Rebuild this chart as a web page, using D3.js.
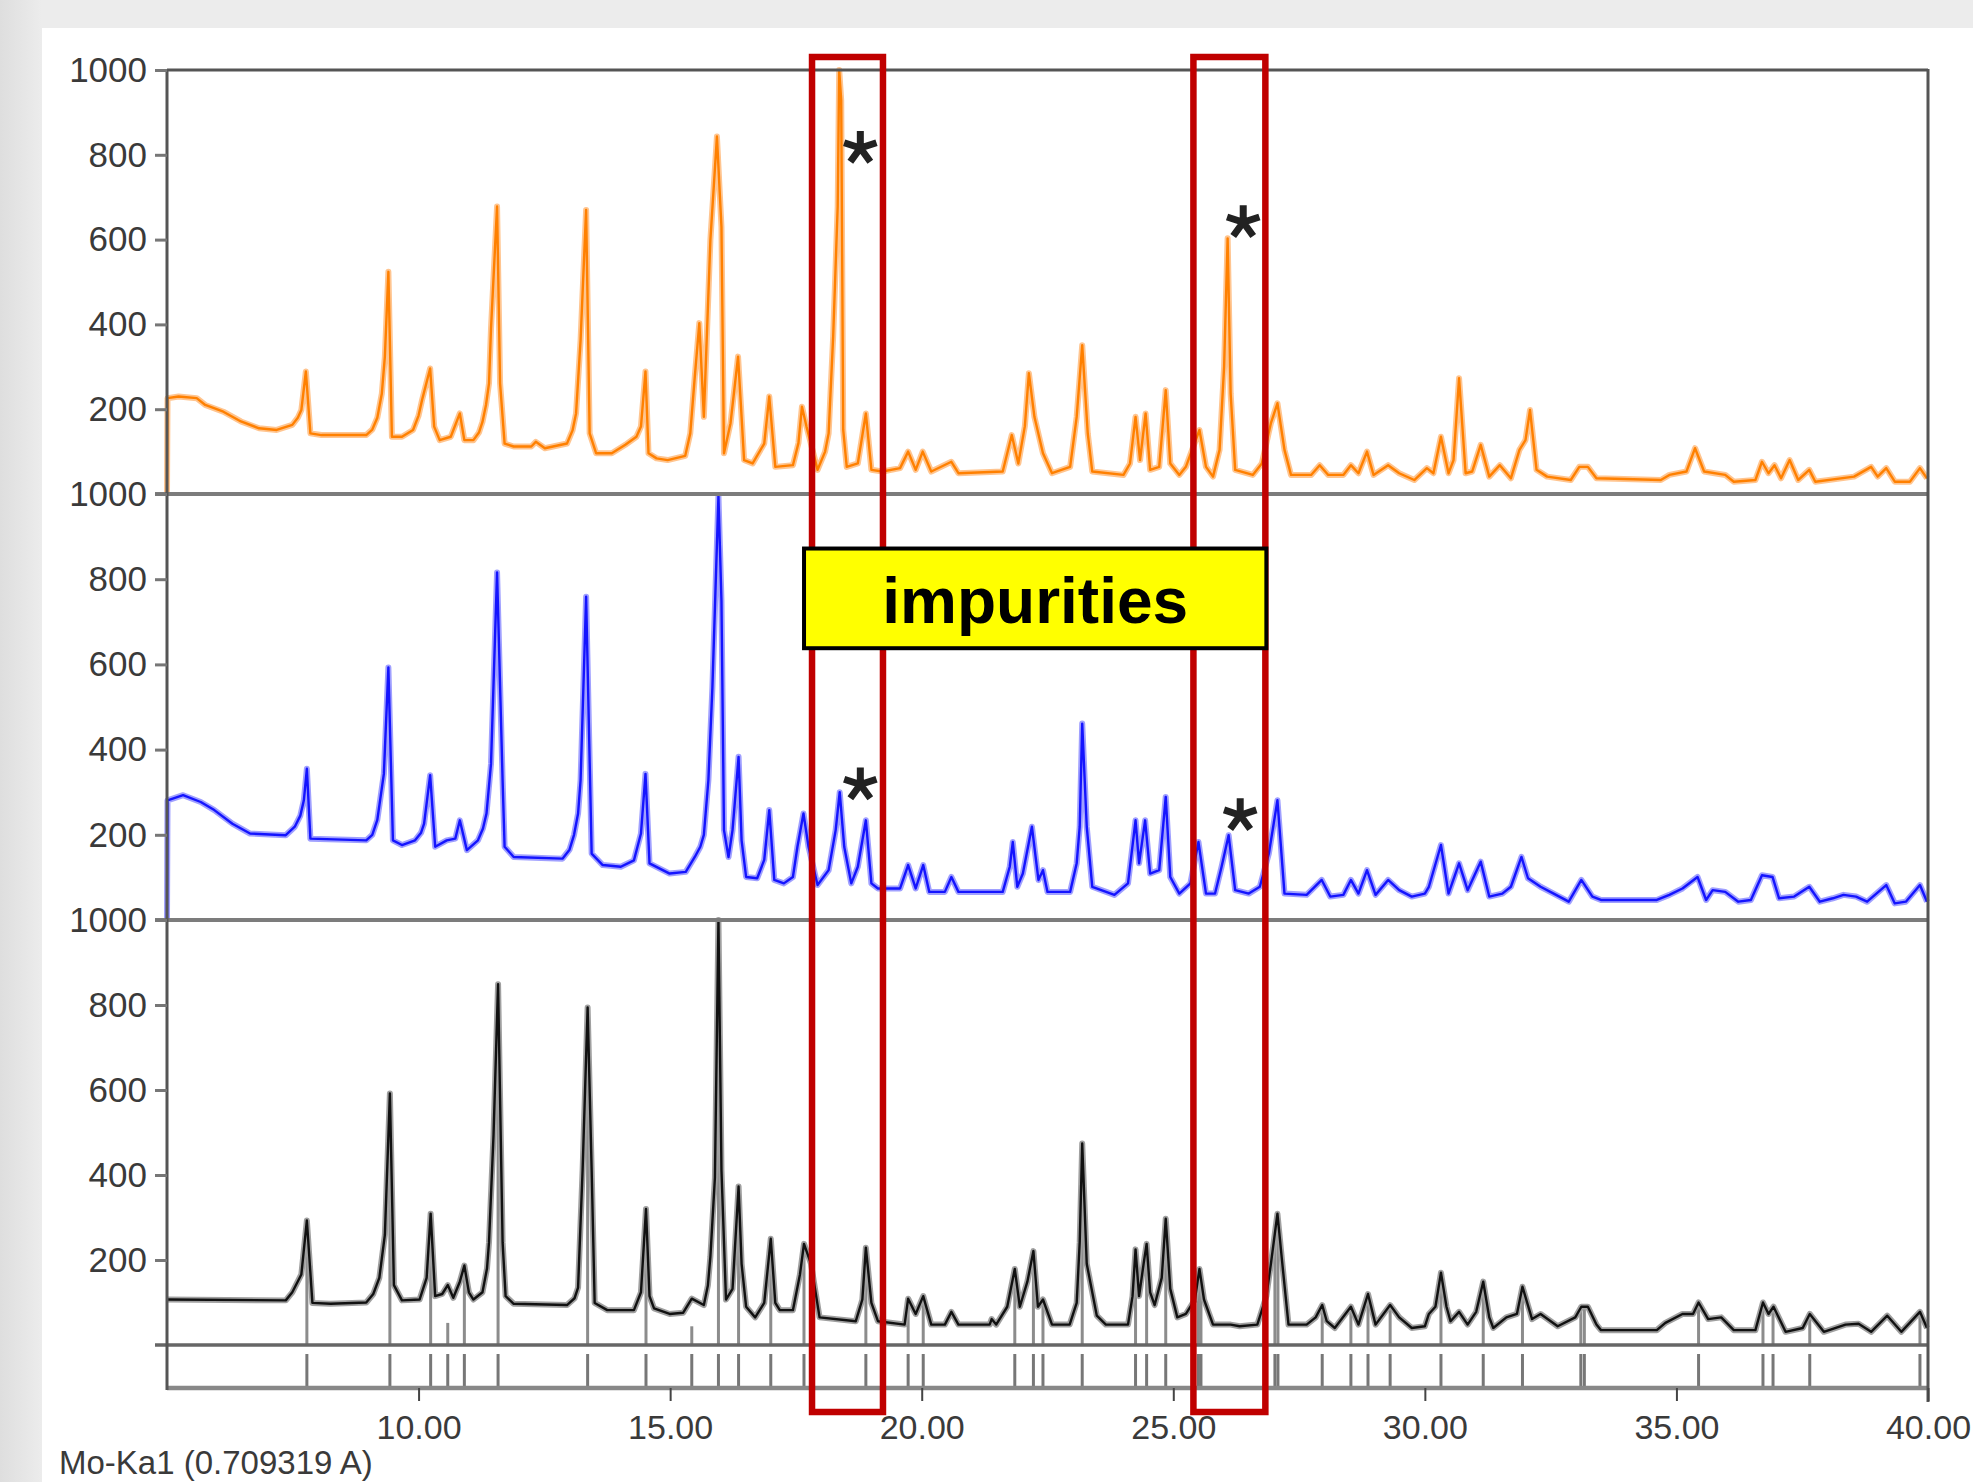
<!DOCTYPE html>
<html>
<head>
<meta charset="utf-8">
<script src="https://cdn.jsdelivr.net/npm/d3@7"></script>
<style>
    html, body { margin: 0; padding: 0; background: #ececec; }
    svg { display: block; }
</style>
</head>
<body>
<svg id="chart" width="1973" height="1482"></svg>
<script>
// axis ranges and ticks
const TWO_THETA_RANGE = [5, 40]
const INTENSITY_RANGE = [0, 1000]
const X_TICKS = [10, 15, 20, 25, 30, 35, 40]
const Y_TICKS = [200, 400, 600, 800, 1000]
const X_LABEL = "Mo-Ka1 (0.709319 A)"

// measured pattern, top panel (orange): [2theta, intensity]
const ORANGE_TRACE = [[5.00,0],[5.01,226],[5.23,230],[5.59,226],[5.76,210],[6.12,194],[6.47,171],[6.83,155],[7.18,151],[7.49,163],[7.60,180],[7.67,198],[7.76,289],[7.85,143],[8.07,139],[8.96,139],[9.08,152],[9.18,180],[9.27,237],[9.33,324],[9.40,524],[9.47,135],[9.67,135],[9.89,151],[10.00,185],[10.07,222],[10.23,296],[10.31,159],[10.42,127],[10.64,135],[10.82,190],[10.91,127],[11.09,127],[11.20,145],[11.27,170],[11.34,210],[11.40,261],[11.44,391],[11.56,678],[11.62,261],[11.71,119],[11.89,112],[12.24,112],[12.33,123],[12.51,108],[12.95,119],[13.06,150],[13.13,190],[13.22,363],[13.33,670],[13.40,143],[13.53,96],[13.84,96],[14.11,116],[14.33,135],[14.42,159],[14.51,289],[14.57,96],[14.73,84],[14.95,80],[15.30,90],[15.40,143],[15.49,277],[15.58,403],[15.67,182],[15.80,599],[15.93,843],[16.02,630],[16.07,96],[16.20,167],[16.35,324],[16.47,80],[16.64,72],[16.87,119],[16.97,230],[17.09,64],[17.44,68],[17.55,120],[17.62,206],[17.71,159],[17.93,57],[18.08,100],[18.15,143],[18.24,371],[18.33,678],[18.36,1000],[18.40,929],[18.44,151],[18.51,64],[18.73,72],[18.89,190],[19.00,57],[19.22,53],[19.57,61],[19.73,100],[19.88,57],[20.02,100],[20.19,53],[20.59,76],[20.73,49],[21.61,53],[21.79,139],[21.92,72],[22.05,160],[22.13,285],[22.24,182],[22.41,96],[22.59,49],[22.95,64],[23.08,182],[23.19,351],[23.30,143],[23.39,53],[24.01,45],[24.14,72],[24.25,182],[24.34,80],[24.45,190],[24.54,57],[24.72,64],[24.85,245],[24.94,72],[25.12,45],[25.25,64],[25.52,151],[25.65,64],[25.79,41],[25.92,104],[26.01,300],[26.08,603],[26.14,237],[26.23,57],[26.58,45],[26.76,72],[26.94,167],[27.07,214],[27.21,104],[27.34,45],[27.74,45],[27.91,68],[28.08,45],[28.38,45],[28.53,68],[28.68,49],[28.85,100],[28.98,45],[29.27,68],[29.49,49],[29.79,33],[30.04,61],[30.17,49],[30.32,135],[30.47,49],[30.57,80],[30.68,273],[30.81,49],[30.94,53],[31.11,116],[31.28,41],[31.49,68],[31.71,37],[31.88,104],[32.00,127],[32.09,198],[32.22,57],[32.43,41],[32.90,33],[33.07,64],[33.24,64],[33.41,37],[34.69,33],[34.86,45],[35.20,53],[35.37,108],[35.55,53],[35.97,45],[36.14,29],[36.57,33],[36.70,76],[36.83,49],[36.95,68],[37.08,37],[37.25,80],[37.42,33],[37.64,57],[37.76,29],[38.53,41],[38.87,64],[39.00,41],[39.17,61],[39.34,29],[39.64,29],[39.84,61],[39.98,37]]

// measured pattern, middle panel (blue)
const BLUE_TRACE = [[5.00,0],[5.01,281],[5.32,293],[5.67,277],[5.94,258],[6.30,226],[6.65,203],[7.36,199],[7.54,219],[7.65,245],[7.72,281],[7.78,355],[7.85,191],[8.96,187],[9.08,200],[9.18,235],[9.31,343],[9.40,593],[9.49,187],[9.67,176],[9.93,187],[10.05,205],[10.11,226],[10.23,340],[10.33,172],[10.56,187],[10.73,191],[10.82,234],[10.96,164],[11.18,187],[11.28,215],[11.35,250],[11.44,367],[11.56,816],[11.67,328],[11.71,172],[11.89,148],[12.86,144],[13.00,165],[13.09,200],[13.17,250],[13.22,328],[13.33,759],[13.44,156],[13.66,129],[14.02,125],[14.28,140],[14.42,203],[14.51,343],[14.59,133],[14.99,109],[15.31,113],[15.49,148],[15.60,172],[15.67,200],[15.76,328],[15.84,546],[15.96,995],[16.02,749],[16.07,211],[16.16,148],[16.24,211],[16.36,383],[16.42,187],[16.51,101],[16.73,98],[16.87,141],[16.97,258],[17.07,94],[17.26,86],[17.44,101],[17.53,172],[17.65,250],[17.75,172],[17.93,82],[18.15,117],[18.29,211],[18.37,300],[18.46,172],[18.60,86],[18.73,125],[18.89,234],[19.00,86],[19.13,74],[19.57,74],[19.73,129],[19.88,74],[20.03,129],[20.15,66],[20.46,66],[20.59,101],[20.73,66],[21.61,66],[21.75,125],[21.81,183],[21.90,78],[22.01,109],[22.19,219],[22.32,94],[22.41,117],[22.50,66],[22.95,66],[23.08,133],[23.14,219],[23.19,461],[23.28,219],[23.39,78],[23.83,59],[24.10,86],[24.25,234],[24.32,133],[24.44,234],[24.54,109],[24.72,117],[24.85,289],[24.94,101],[25.12,62],[25.34,86],[25.50,183],[25.65,62],[25.83,62],[25.96,125],[26.10,199],[26.23,70],[26.50,62],[26.72,78],[26.90,156],[27.07,281],[27.21,62],[27.65,59],[27.95,94],[28.12,55],[28.38,59],[28.53,94],[28.68,62],[28.85,117],[29.02,59],[29.27,94],[29.49,70],[29.74,55],[30.00,62],[30.08,78],[30.32,176],[30.47,62],[30.68,133],[30.85,70],[31.11,137],[31.28,55],[31.54,62],[31.71,78],[31.92,148],[32.05,98],[32.30,78],[32.56,62],[32.86,43],[33.11,94],[33.33,55],[33.50,47],[34.61,47],[34.86,59],[35.12,74],[35.42,101],[35.59,47],[35.72,70],[35.97,66],[36.23,43],[36.48,47],[36.70,105],[36.91,101],[37.04,51],[37.34,55],[37.64,78],[37.85,43],[38.11,51],[38.32,59],[38.57,55],[38.79,43],[39.17,82],[39.34,39],[39.56,43],[39.84,82],[39.98,43]]

// reference pattern, bottom panel (black)
const BLACK_TRACE = [[5.00,107],[7.36,105],[7.49,124],[7.67,166],[7.78,293],[7.89,99],[8.25,97],[8.96,100],[9.10,120],[9.22,158],[9.33,259],[9.43,592],[9.51,141],[9.67,105],[10.02,107],[10.16,158],[10.24,309],[10.33,115],[10.47,120],[10.58,141],[10.69,111],[10.82,149],[10.91,187],[11.00,124],[11.09,107],[11.27,124],[11.36,180],[11.40,242],[11.49,495],[11.58,849],[11.67,242],[11.73,115],[11.89,97],[12.95,94],[13.10,110],[13.17,135],[13.26,411],[13.36,794],[13.44,411],[13.50,99],[13.75,82],[14.28,82],[14.42,124],[14.52,320],[14.59,115],[14.68,86],[14.99,73],[15.26,76],[15.43,109],[15.67,94],[15.75,140],[15.80,208],[15.89,394],[15.96,1000],[16.02,411],[16.11,107],[16.24,132],[16.36,373],[16.42,191],[16.51,90],[16.69,65],[16.87,99],[17.00,250],[17.09,99],[17.18,82],[17.44,82],[17.58,166],[17.66,238],[17.80,191],[17.97,65],[18.69,56],[18.82,107],[18.89,229],[19.00,99],[19.13,56],[19.66,48],[19.73,109],[19.88,73],[20.03,115],[20.19,48],[20.46,48],[20.59,78],[20.73,48],[21.35,48],[21.39,61],[21.48,48],[21.70,90],[21.85,179],[21.95,90],[22.10,149],[22.22,221],[22.31,90],[22.41,107],[22.59,48],[22.94,48],[23.08,99],[23.14,242],[23.19,474],[23.28,191],[23.48,69],[23.66,48],[24.10,48],[24.19,115],[24.25,225],[24.32,115],[24.41,191],[24.47,238],[24.54,124],[24.63,94],[24.77,158],[24.85,297],[24.94,132],[25.08,65],[25.25,73],[25.43,107],[25.52,179],[25.61,107],[25.79,48],[26.14,48],[26.32,44],[26.67,48],[26.85,115],[26.94,191],[27.07,309],[27.16,200],[27.29,48],[27.65,48],[27.83,65],[27.96,94],[28.05,56],[28.21,40],[28.53,90],[28.68,48],[28.87,120],[29.02,48],[29.31,94],[29.49,65],[29.74,40],[30.00,44],[30.08,73],[30.21,90],[30.32,170],[30.43,90],[30.51,56],[30.68,78],[30.85,48],[31.02,78],[31.16,149],[31.28,65],[31.36,40],[31.62,65],[31.83,73],[31.94,137],[32.13,61],[32.30,73],[32.64,44],[32.99,65],[33.11,90],[33.24,90],[33.41,48],[33.50,35],[34.61,35],[34.78,52],[35.12,73],[35.33,73],[35.44,100],[35.63,61],[35.89,65],[36.14,35],[36.57,35],[36.72,100],[36.83,73],[36.93,90],[37.17,31],[37.51,40],[37.65,73],[37.93,31],[38.36,48],[38.62,50],[38.87,31],[39.19,69],[39.47,31],[39.84,78],[39.98,40]]

// calculated reflections (tick strip) and their stick heights
const REFLECTION_POSITIONS = [7.78, 9.43, 10.24, 10.58, 10.91, 11.58, 13.36, 14.52, 15.43, 15.96, 16.36, 17.00, 17.66, 18.89, 19.73, 20.03, 21.85, 22.22, 22.41, 23.19, 24.25, 24.47, 24.85, 25.50, 25.55, 27.02, 27.08, 27.96, 28.53, 28.87, 29.31, 30.32, 31.16, 31.94, 33.10, 33.17, 35.44, 36.72, 36.92, 37.65, 39.84]
const STICK_HEIGHTS = [293, 590, 309, 52, 158, 849, 794, 318, 44, 1000, 377, 250, 242, 229, 107, 115, 179, 221, 107, 474, 225, 238, 297, 179, 150, 250, 309, 94, 90, 120, 94, 170, 149, 137, 90, 90, 100, 100, 90, 73, 78]

// annotations
const IMPURITY_WINDOWS = [[17.82, 19.23], [25.40, 26.83]]
const IMPURITY_LABEL = "impurities"
const STAR_PANELS = [0, 0, 1, 1]
const STAR_TWO_THETA = [18.78, 26.39, 18.78, 26.33]
const STAR_INTENSITY = [816, 641, 318, 246]

const FONT = "'Liberation Sans', Arial, sans-serif"

let svg = d3.select("#chart"),
    bounds = [70, 494, 920, 1345],
    left = 167,
    right = 1928,
    stripBottom = 1388,
    x = d3.scaleLinear().domain(TWO_THETA_RANGE).range([left, right]),
    yScales = [0, 1, 2].map(i => d3.scaleLinear().domain(INTENSITY_RANGE).range([bounds[i + 1], bounds[i]])),
    traces = [ORANGE_TRACE, BLUE_TRACE, BLACK_TRACE],
    haloColors = ["#ffc590", "#a0a0ff", "#a0a0a0"],
    coreColors = ["#ff8000", "#1414ff", "#111111"]

// page background
let defs = svg.append("defs"),
    shade = defs.append("linearGradient").attr("id", "leftShade")
shade.append("stop").attr("offset", "0%").attr("stop-color", "#dedede")
shade.append("stop").attr("offset", "100%").attr("stop-color", "#ececec")

svg.append("rect")
    .attr("width", 1973)
    .attr("height", 1482)
    .attr("fill", "#ececec")
svg.append("rect")
    .attr("width", 42)
    .attr("height", 1482)
    .attr("fill", "url(#leftShade)")
svg.append("rect")
    .attr("x", 42)
    .attr("y", 28)
    .attr("width", 1973 - 42)
    .attr("height", 1482 - 28)
    .attr("fill", "#ffffff")

// reflection sticks in the bottom panel
svg.append("g")
    .selectAll("line")
    .data(REFLECTION_POSITIONS)
    .join("line")
    .attr("x1", d => x(d))
    .attr("x2", d => x(d))
    .attr("y1", yScales[2](0))
    .attr("y2", (d, i) => yScales[2](STICK_HEIGHTS[i]))
    .attr("stroke", "#8c8c8c")
    .attr("stroke-width", 3)

// reflection ticks in the strip under the bottom panel
svg.append("g")
    .selectAll("line")
    .data(REFLECTION_POSITIONS)
    .join("line")
    .attr("x1", d => x(d))
    .attr("x2", d => x(d))
    .attr("y1", bounds[3] + 9)
    .attr("y2", stripBottom - 2)
    .attr("stroke", "#777")
    .attr("stroke-width", 3)

// the three patterns
traces.forEach((trace, i) => {
    let line = d3.line()
        .x(d => x(d[0]))
        .y(d => yScales[i](d[1]))

    svg.append("path")
        .datum(trace)
        .attr("d", line)
        .attr("fill", "none")
        .attr("stroke", haloColors[i])
        .attr("stroke-width", 6)
        .attr("stroke-linejoin", "round")

    svg.append("path")
        .datum(trace)
        .attr("d", line)
        .attr("fill", "none")
        .attr("stroke", coreColors[i])
        .attr("stroke-width", 2.4)
        .attr("stroke-linejoin", "round")
})

// frame
let frame = svg.append("g")

frame.append("line")
    .attr("x1", left).attr("x2", right)
    .attr("y1", bounds[0]).attr("y2", bounds[0])
    .attr("stroke", "#555").attr("stroke-width", 3)

frame.selectAll("line.separator")
    .data([bounds[1], bounds[2]])
    .join("line")
    .attr("class", "separator")
    .attr("x1", left - 12).attr("x2", right)
    .attr("y1", d => d).attr("y2", d => d)
    .attr("stroke", "#7c7c7c").attr("stroke-width", 4)

frame.append("line")
    .attr("x1", left - 12).attr("x2", right)
    .attr("y1", bounds[3]).attr("y2", bounds[3])
    .attr("stroke", "#666").attr("stroke-width", 3.5)

frame.append("line")
    .attr("x1", left).attr("x2", right)
    .attr("y1", stripBottom).attr("y2", stripBottom)
    .attr("stroke", "#888").attr("stroke-width", 4.5)

frame.append("line")
    .attr("x1", left).attr("x2", left)
    .attr("y1", bounds[0] - 1).attr("y2", stripBottom + 2)
    .attr("stroke", "#555").attr("stroke-width", 3)

frame.append("line")
    .attr("x1", right).attr("x2", right)
    .attr("y1", bounds[0] - 1).attr("y2", stripBottom + 14)
    .attr("stroke", "#555").attr("stroke-width", 3)

// y axes, one per panel
yScales.forEach(scale => {
    let axis = svg.append("g")
        .attr("transform", `translate(${left}, 0)`)
        .call(d3.axisLeft(scale)
            .tickValues(Y_TICKS)
            .tickSize(12)
            .tickPadding(8)
            .tickFormat(d3.format("d")))

    axis.attr("font-family", FONT).attr("font-size", 35)
    axis.select(".domain").remove()
    axis.selectAll(".tick line").attr("stroke", "#777").attr("stroke-width", 3)
    axis.selectAll(".tick text").attr("fill", "#3a3a3a")
})

// x axis
let xAxis = svg.append("g")
    .attr("transform", `translate(0, ${stripBottom})`)
    .call(d3.axisBottom(x)
        .tickValues(X_TICKS)
        .tickSize(13)
        .tickPadding(14)
        .tickFormat(d3.format(".2f")))

xAxis.attr("font-family", FONT).attr("font-size", 34)
xAxis.select(".domain").remove()
xAxis.selectAll(".tick line").attr("stroke", "#444").attr("stroke-width", 2)
xAxis.selectAll(".tick text").attr("fill", "#3a3a3a")

svg.append("text")
    .attr("x", 59)
    .attr("y", 1474)
    .attr("font-family", FONT)
    .attr("font-size", 33)
    .attr("fill", "#3a3a3a")
    .text(X_LABEL)

// impurity windows
svg.append("g")
    .selectAll("rect")
    .data(IMPURITY_WINDOWS)
    .join("rect")
    .attr("x", d => x(d[0]))
    .attr("y", bounds[0] - 13)
    .attr("width", d => x(d[1]) - x(d[0]))
    .attr("height", stripBottom + 24 - (bounds[0] - 13))
    .attr("fill", "none")
    .attr("stroke", "#c00000")
    .attr("stroke-width", 6.5)

let labelLeft = x(IMPURITY_WINDOWS[0][0]) - 8,
    labelRight = x(IMPURITY_WINDOWS[1][1]) + 1,
    labelTop = yScales[1](872),
    labelBottom = yScales[1](638)

svg.append("rect")
    .attr("x", labelLeft)
    .attr("y", labelTop)
    .attr("width", labelRight - labelLeft)
    .attr("height", labelBottom - labelTop)
    .attr("fill", "#ffff00")
    .attr("stroke", "#000")
    .attr("stroke-width", 4)

svg.append("text")
    .attr("x", (labelLeft + labelRight) / 2)
    .attr("y", labelBottom - 25)
    .attr("text-anchor", "middle")
    .attr("font-family", FONT)
    .attr("font-weight", "bold")
    .attr("font-size", 64)
    .attr("fill", "#000")
    .text(IMPURITY_LABEL)

// asterisks next to impurity peaks
let armAngles = d3.range(5).map(k => (-90 + 72 * k) * Math.PI / 180)

svg.append("g")
    .selectAll("path")
    .data(STAR_PANELS)
    .join("path")
    .attr("d", (panel, i) => {
        let cx = x(STAR_TWO_THETA[i]),
            cy = yScales[panel](STAR_INTENSITY[i]),
            path = d3.path()

        armAngles.forEach(a => {
            path.moveTo(cx, cy)
            path.lineTo(cx + 17 * Math.cos(a), cy + 17 * Math.sin(a))
        })
        return path.toString()
    })
    .attr("fill", "none")
    .attr("stroke", "#222")
    .attr("stroke-width", 7)
</script>
</body>
</html>
